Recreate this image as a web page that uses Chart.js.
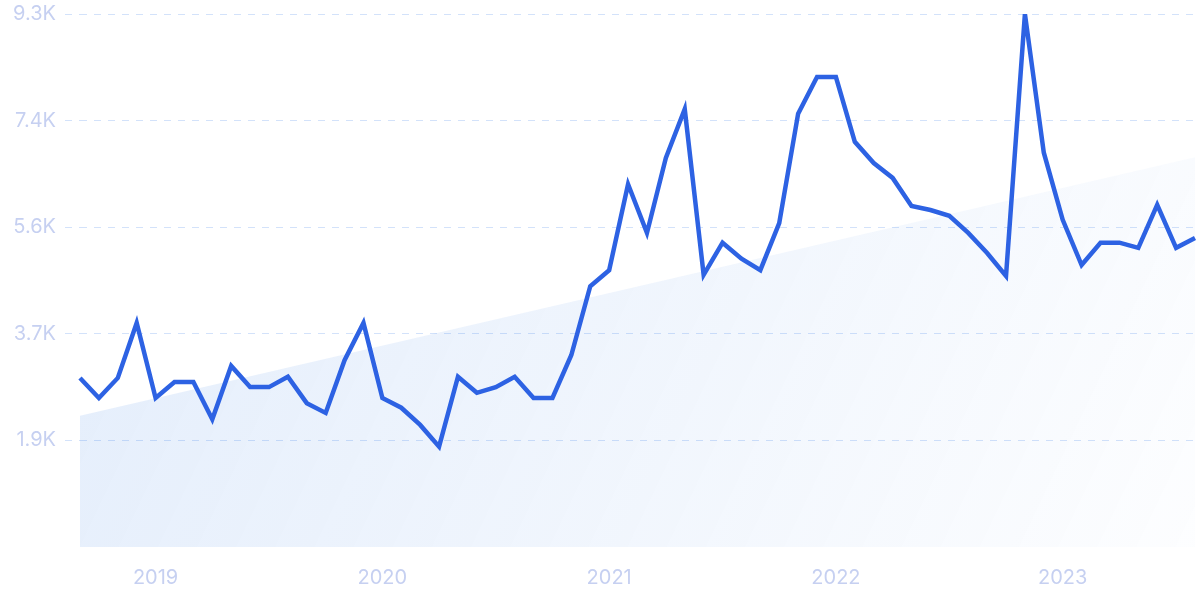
<!DOCTYPE html>
<html>
<head>
<meta charset="utf-8">
<script src="https://cdn.jsdelivr.net/npm/chart.js@4"></script>
<style>
    html, body { margin: 0; padding: 0; background: #ffffff; }
    #contenedor { width: 1200px; height: 600px; }
</style>
</head>
<body>
<div id="contenedor"><canvas id="tendenciaChart"></canvas></div>
<script>
// Meses (sep 2018 - ago 2023)
const meses = [
    '2018-09', '2018-10', '2018-11', '2018-12',
    '2019-01', '2019-02', '2019-03', '2019-04', '2019-05', '2019-06', '2019-07', '2019-08', '2019-09', '2019-10', '2019-11', '2019-12',
    '2020-01', '2020-02', '2020-03', '2020-04', '2020-05', '2020-06', '2020-07', '2020-08', '2020-09', '2020-10', '2020-11', '2020-12',
    '2021-01', '2021-02', '2021-03', '2021-04', '2021-05', '2021-06', '2021-07', '2021-08', '2021-09', '2021-10', '2021-11', '2021-12',
    '2022-01', '2022-02', '2022-03', '2022-04', '2022-05', '2022-06', '2022-07', '2022-08', '2022-09', '2022-10', '2022-11', '2022-12',
    '2023-01', '2023-02', '2023-03', '2023-04', '2023-05', '2023-06', '2023-07', '2023-08'
];

// Volumen mensual
const volumen = [
    2950, 2600, 2950, 3910, 2600, 2880, 2880, 2230, 3160, 2790,
    2790, 2970, 2510, 2340, 3260, 3910, 2600, 2430, 2130, 1750,
    2970, 2690, 2790, 2970, 2600, 2600, 3350, 4550, 4830, 6330,
    5480, 6790, 7640, 4750, 5310, 5030, 4830, 5650, 7560, 8200,
    8200, 7070, 6700, 6440, 5950, 5880, 5780, 5480, 5130, 4730,
    9300, 6880, 5710, 4920, 5310, 5310, 5220, 5970, 5220, 5390
];

// Linea de tendencia: valor inicial y final
const tendencia = [2290, 6800];

// Ticks del eje Y
const ticksY = [1860, 3720, 5580, 7440, 9300];
const etiquetasY = ['1.9K', '3.7K', '5.6K', '7.4K', '9.3K'];

const colorLinea = '#2d62e3';
const colorGrid = '#d3e2fa';
const colorTexto = '#c6d0f1';

function rellenoTendencia(context) {
    const { ctx, chartArea } = context.chart;
    if (!chartArea) return 'rgba(60, 130, 230, 0.1)';
    const g = ctx.createLinearGradient(chartArea.left, chartArea.top, chartArea.right, chartArea.bottom);
    g.addColorStop(0, 'rgba(60, 130, 230, 0.15)');
    g.addColorStop(1, 'rgba(60, 130, 230, 0.01)');
    return g;
}

function inicializarGrafica() {
    const ctx = document.getElementById('tendenciaChart').getContext('2d');
    new Chart(ctx, {
        type: 'line',
        data: {
            labels: meses,
            datasets: [
                {
                    label: 'Volumen',
                    data: volumen,
                    borderColor: colorLinea,
                    borderWidth: 4.5,
                    pointRadius: 0,
                    tension: 0,
                    fill: false,
                    order: 1
                },
                {
                    label: 'Tendencia',
                    data: [
                        { x: meses[0], y: tendencia[0] },
                        { x: meses[meses.length - 1], y: tendencia[1] }
                    ],
                    borderWidth: 0,
                    borderColor: 'rgba(0,0,0,0)',
                    pointRadius: 0,
                    fill: 'origin',
                    backgroundColor: rellenoTendencia,
                    order: 2
                }
            ]
        },
        options: {
            responsive: true,
            maintainAspectRatio: false,
            animation: false,
            layout: { padding: { top: 14, right: 5, left: 0, bottom: 0 } },
            plugins: {
                legend: { display: false },
                tooltip: { enabled: false }
            },
            scales: {
                x: {
                    offset: false,
                    grid: { display: false },
                    border: { display: false },
                    ticks: {
                        autoSkip: false,
                        maxRotation: 0,
                        padding: 11,
                        color: colorTexto,
                        font: { family: 'Inter', size: 20 },
                        callback: function (valor, indice) {
                            const m = meses[indice];
                            return m.endsWith('-01') ? m.slice(0, 4) : '';
                        }
                    },
                    afterFit: function (scale) {
                        scale.height = 53;
                        scale.paddingLeft = 0;
                        scale.paddingRight = 0;
                    }
                },
                y: {
                    min: 0,
                    max: 9300,
                    border: { display: false, dash: [7, 7] },
                    grid: {
                        color: colorGrid,
                        lineWidth: 1,
                        tickColor: colorGrid,
                        tickLength: 15,
                        tickBorderDash: [7, 7]
                    },
                    ticks: {
                        padding: 9,
                        color: colorTexto,
                        font: { family: 'Inter', size: 20 },
                        callback: function (valor) {
                            const i = ticksY.indexOf(valor);
                            return i >= 0 ? etiquetasY[i] : '';
                        }
                    },
                    afterBuildTicks: function (scale) {
                        scale.ticks = ticksY.map(v => ({ value: v }));
                    },
                    afterFit: function (scale) {
                        scale.width = 80;
                        scale.paddingTop = 0;
                        scale.paddingBottom = 0;
                    }
                }
            }
        }
    });
}

document.addEventListener('DOMContentLoaded', inicializarGrafica);
</script>
</body>
</html>
